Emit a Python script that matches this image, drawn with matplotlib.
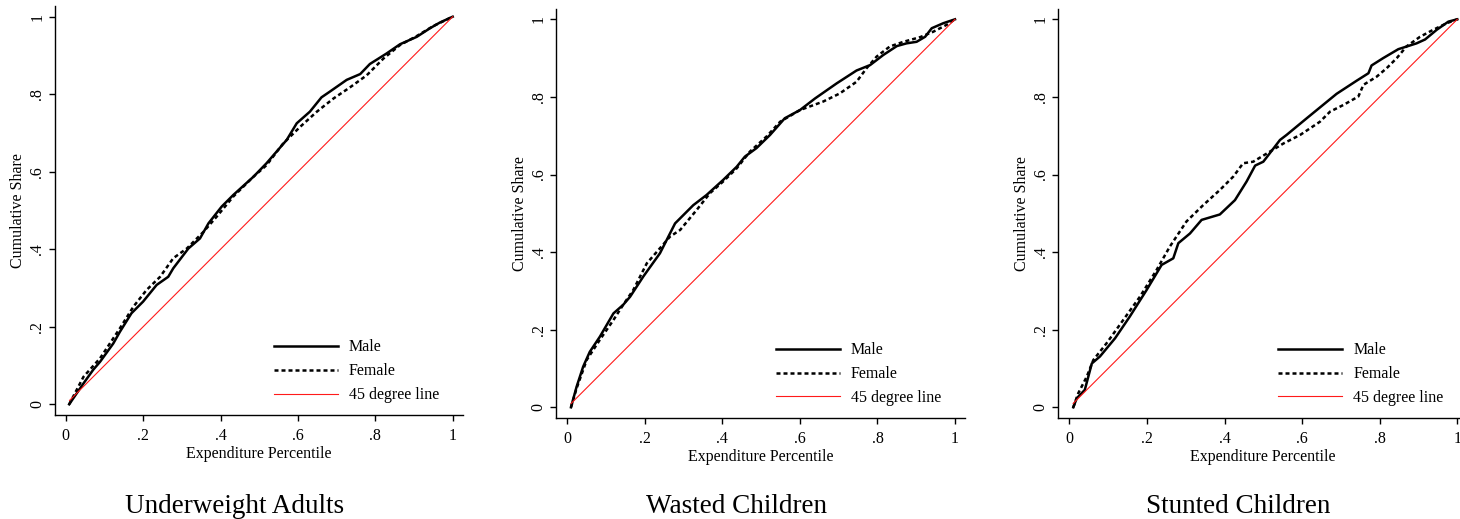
import matplotlib
matplotlib.use("Agg")
import matplotlib.pyplot as plt
from matplotlib.lines import Line2D

# ---------------- data ----------------
titles = ["Underweight Adults", "Wasted Children", "Stunted Children"]
tick_vals = [0, 0.2, 0.4, 0.6, 0.8, 1.0]
tick_labels = ["0", ".2", ".4", ".6", ".8", "1"]
legend_labels = ["Male", "Female", "45 degree line"]
xlabel = "Expenditure Percentile"
ylabel = "Cumulative Share"
line45_x = [0.01, 1.0]
line45_y = [0.01, 1.0]

# Underweight adults
ua_male_x = [0.009, 0.046, 0.071, 0.089, 0.123, 0.14, 0.17, 0.2, 0.235, 0.265, 0.278, 0.317,
             0.347, 0.369, 0.403, 0.433, 0.485, 0.519, 0.545, 0.571, 0.597, 0.631, 0.661,
             0.683, 0.726, 0.761, 0.786, 0.829, 0.864, 0.907, 0.941, 0.967, 1.0]
ua_male_y = [0.0, 0.054, 0.089, 0.11, 0.157, 0.187, 0.235, 0.265, 0.308, 0.329, 0.351, 0.402,
             0.428, 0.467, 0.51, 0.54, 0.587, 0.622, 0.652, 0.682, 0.725, 0.755, 0.792,
             0.807, 0.837, 0.852, 0.878, 0.905, 0.929, 0.948, 0.97, 0.985, 1.0]
ua_female_x = [0.009, 0.046, 0.089, 0.14, 0.175, 0.209, 0.244, 0.278, 0.313, 0.356, 0.39,
               0.433, 0.485, 0.519, 0.562, 0.606, 0.649, 0.692, 0.735, 0.778, 0.821, 0.864,
               0.907, 0.95, 1.0]
ua_female_y = [0.0, 0.071, 0.119, 0.196, 0.252, 0.295, 0.329, 0.377, 0.402, 0.445, 0.484,
               0.536, 0.587, 0.617, 0.673, 0.716, 0.755, 0.789, 0.818, 0.849, 0.892, 0.927,
               0.95, 0.976, 1.0]

# Wasted children
wc_male_x = [0.0095, 0.024, 0.041, 0.058, 0.084, 0.119, 0.144, 0.162, 0.196, 0.239, 0.278,
             0.325, 0.359, 0.402, 0.437, 0.458, 0.488, 0.523, 0.561, 0.6, 0.639, 0.695,
             0.746, 0.781, 0.815, 0.85, 0.875, 0.901, 0.923, 0.94, 0.97, 1.0]
wc_male_y = [0.0, 0.053, 0.105, 0.143, 0.182, 0.242, 0.264, 0.285, 0.337, 0.397, 0.474,
             0.521, 0.547, 0.586, 0.62, 0.646, 0.668, 0.702, 0.745, 0.766, 0.796, 0.835,
             0.868, 0.882, 0.908, 0.931, 0.938, 0.942, 0.955, 0.977, 0.99, 1.0]
wc_female_x = [0.0095, 0.024, 0.05, 0.084, 0.119, 0.144, 0.17, 0.205, 0.239, 0.265, 0.291,
               0.334, 0.368, 0.402, 0.437, 0.471, 0.514, 0.549, 0.6, 0.66, 0.703, 0.746,
               0.772, 0.798, 0.832, 0.867, 0.91, 0.944, 0.979, 1.0]
wc_female_y = [0.0, 0.049, 0.122, 0.174, 0.225, 0.264, 0.302, 0.371, 0.41, 0.44, 0.457,
               0.509, 0.552, 0.582, 0.616, 0.659, 0.698, 0.736, 0.766, 0.788, 0.809, 0.839,
               0.874, 0.904, 0.93, 0.942, 0.954, 0.968, 0.986, 1.0]

# Stunted children
sc_male_x = [0.0103, 0.019, 0.04, 0.058, 0.079, 0.118, 0.156, 0.199, 0.238, 0.268, 0.281,
             0.311, 0.341, 0.388, 0.427, 0.457, 0.479, 0.5, 0.543, 0.56, 0.612, 0.689,
             0.741, 0.771, 0.779, 0.809, 0.848, 0.895, 0.917, 0.947, 0.977, 1.0]
sc_male_y = [0.0, 0.023, 0.045, 0.113, 0.131, 0.178, 0.234, 0.302, 0.367, 0.384, 0.423,
             0.448, 0.483, 0.497, 0.534, 0.582, 0.623, 0.633, 0.689, 0.702, 0.745, 0.808,
             0.842, 0.861, 0.881, 0.9, 0.923, 0.938, 0.948, 0.973, 0.994, 1.0]
sc_female_x = [0.0103, 0.023, 0.045, 0.062, 0.096, 0.139, 0.182, 0.225, 0.259, 0.302, 0.345,
               0.388, 0.423, 0.448, 0.474, 0.517, 0.552, 0.595, 0.646, 0.672, 0.706, 0.745,
               0.758, 0.792, 0.818, 0.844, 0.869, 0.904, 0.938, 0.973, 1.0]
sc_female_y = [0.0, 0.036, 0.079, 0.122, 0.165, 0.225, 0.285, 0.354, 0.414, 0.479, 0.521,
               0.56, 0.595, 0.629, 0.633, 0.659, 0.68, 0.702, 0.736, 0.762, 0.779, 0.801,
               0.831, 0.852, 0.874, 0.9, 0.93, 0.955, 0.973, 0.99, 1.0]

male_x = [ua_male_x, wc_male_x, sc_male_x]
male_y = [ua_male_y, wc_male_y, sc_male_y]
female_x = [ua_female_x, wc_female_x, sc_female_x]
female_y = [ua_female_y, wc_female_y, sc_female_y]

# ---------------- layout ----------------
W, H = 1460, 519
FONT = "Liberation Serif"
plt.rcParams["font.family"] = [FONT, "DejaVu Serif"]
# pixel positions of data 0 and 1 along x and y for each panel
panel_px = [(65.7, 452.7, 404.3, 16.7),
            (567.3, 955.0, 407.3, 19.3),
            (1069.3, 1457.3, 407.3, 19.3)]
title_cx = [235, 736.7, 1237.8]
xlim = (-0.028, 1.027)
ylim = (-0.028, 1.027)

fig = plt.figure(figsize=(W / 100, H / 100), dpi=100)
fig.patch.set_facecolor("white")

for i in range(3):
    x0, x1, y0, y1 = panel_px[i]
    sx, sy = x1 - x0, y0 - y1
    left = x0 + xlim[0] * sx
    right = x0 + xlim[1] * sx
    bottom = y0 - ylim[0] * sy
    top = y0 - ylim[1] * sy
    ax = fig.add_axes([left / W, 1 - bottom / H, (right - left) / W, (bottom - top) / H])
    ax.set_xlim(*xlim)
    ax.set_ylim(*ylim)

    ax.plot(male_x[i], male_y[i], color="black", lw=1.8, solid_joinstyle="round")
    ax.plot(female_x[i], female_y[i], color="black", lw=1.8, linestyle=(0, (1.6, 1.2)))
    ax.plot(line45_x, line45_y, color="#ff1a1a", lw=0.8)

    for s in ("top", "right"):
        ax.spines[s].set_visible(False)
    for s in ("left", "bottom"):
        ax.spines[s].set_linewidth(1.0)
    ax.set_xticks(tick_vals)
    ax.set_xticklabels(tick_labels)
    ax.set_yticks(tick_vals)
    ax.set_yticklabels(tick_labels, rotation=90, va="center")
    ax.tick_params(direction="out", length=4, width=1.0, labelsize=11.5, pad=3)
    ax.tick_params(axis="x", pad=5)
    ax.set_xlabel(xlabel, fontsize=11.5, labelpad=2)
    ax.set_ylabel(ylabel, fontsize=11.5, labelpad=2)

    handles = [Line2D([], [], color="black", lw=1.8),
               Line2D([], [], color="black", lw=1.8, linestyle=(0, (1.6, 1.2))),
               Line2D([], [], color="#ff1a1a", lw=0.8)]
    ax.legend(handles, legend_labels, loc="upper left", bbox_to_anchor=(0.538, 0.168),
              bbox_transform=ax.transData, frameon=False, handlelength=4.0,
              handletextpad=0.7, labelspacing=0.5, borderpad=0, borderaxespad=0,
              fontsize=11.5)

    fig.text(title_cx[i] / W, (H - 513) / H, titles[i], ha="center", va="baseline",
             fontsize=19.5, family=FONT)

fig.savefig("out.png", dpi=100, facecolor="white")
